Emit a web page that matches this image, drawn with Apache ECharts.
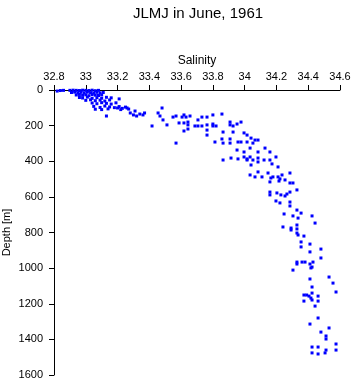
<!DOCTYPE html>
<html>
<head>
<meta charset="utf-8">
<script src="https://cdn.jsdelivr.net/npm/echarts@6/dist/echarts.min.js"></script>
<style>
  html, body { margin: 0; padding: 0; background: #fff; }
  #chart { width: 353px; height: 384px; }
</style>
</head>
<body>
<div id="chart"></div>
<script>
// salinity / depth, one entry per sample
const salinity = [
  32.82, 32.84, 32.86, 32.90, 32.92, 32.94, 32.96, 32.98, 33.00, 33.02, 33.04, 33.06, 33.08,
  32.91, 32.93, 32.95, 32.97, 32.99, 33.01, 33.03, 33.05, 33.07, 33.09, 33.11,
  32.94, 32.96, 32.98, 33.00, 33.02, 33.04, 33.06, 33.08, 33.10,
  32.96, 32.98, 33.01, 33.04, 33.07, 33.10, 33.13, 33.16,
  33.00, 33.03, 33.06, 33.09, 33.12, 33.15, 33.21,
  33.04, 33.07, 33.10, 33.13, 33.16, 33.19,
  33.05, 33.09, 33.12, 33.15, 33.18, 33.21, 33.25,
  33.06, 33.10, 33.14, 33.22, 33.27, 33.20, 33.23, 33.26,
  33.13, 33.28, 33.30, 33.32, 33.34, 33.36, 33.37, 33.31,
  33.417, 33.455, 33.467, 33.486, 33.48, 33.511,
  33.549, 33.568, 33.587, 33.606, 33.618, 33.618, 33.631, 33.643, 33.643, 33.618, 33.643, 33.656, 33.568,
  33.687, 33.706, 33.731, 33.706, 33.731, 33.763, 33.763, 33.763, 33.763,
  33.80, 33.80, 33.80, 33.813, 33.82, 33.857, 33.864, 33.857, 33.864, 33.908, 33.908,
  33.908, 33.908, 33.927, 33.952, 33.927, 33.952, 33.958, 33.977, 33.977, 33.996, 33.996, 33.996,
  33.914, 33.864, 33.958, 34.015, 34.034, 34.034, 34.015,
  34.015, 34.04, 34.065, 34.052, 34.084, 34.084, 34.015, 34.052, 34.04, 34.084, 34.084, 34.084,
  34.034, 34.065, 34.109, 34.128, 34.122, 34.159, 34.159, 34.172, 34.197, 34.147, 34.165, 34.159,
  34.178, 34.21, 34.21, 34.222, 34.254, 34.235, 34.285, 34.285, 34.304, 34.329, 34.285, 34.159,
  34.159, 34.203, 34.228, 34.254, 34.266, 34.216,
  34.197, 34.222, 34.285, 34.285, 34.248, 34.304, 34.329, 34.336, 34.355, 34.424, 34.443,
  34.241, 34.292, 34.292, 34.329, 34.329, 34.329, 34.336, 34.373, 34.355, 34.355, 34.411,
  34.411, 34.48, 34.48, 34.329, 34.361, 34.38, 34.411, 34.43, 34.424, 34.329, 34.417, 34.304,
  34.531, 34.411, 34.556, 34.424, 34.575, 34.424, 34.373, 34.39, 34.405, 34.417, 34.424,
  34.462, 34.373, 34.462, 34.443, 34.462, 34.411, 34.531, 34.48, 34.512, 34.512, 34.575,
  34.424, 34.462, 34.512, 34.575, 34.424, 34.462, 34.506
]
const depth = [
  6, 3, 2, 2, 1, 2, 3, 1, 2, 3, 1, 4, 2,
  14, 12, 16, 13, 17, 12, 15, 18, 13, 16, 14,
  28, 25, 30, 27, 32, 26, 29, 31, 27,
  42, 45, 40, 47, 43, 46, 41, 44,
  58, 55, 60, 57, 62, 56, 50,
  73, 77, 71, 75, 79, 72,
  92, 98, 90, 95, 99, 93, 96,
  108, 110, 106, 110, 107, 101, 103, 101,
  146, 129, 140, 146, 135, 140, 129, 118,
  202, 129, 146, 168, 101, 196,
  152, 146, 185, 152, 140, 185, 152, 180, 196, 230, 219, 146, 298,
  202, 202, 202, 168, 152, 152, 196, 225, 253,
  140, 191, 202, 292, 202, 135, 236, 275, 298, 275, 298,
  180, 196, 202, 191, 236, 337, 292, 292, 180, 241, 348, 376,
  382, 393, 387, 292, 326, 376, 387,
  253, 270, 281, 298, 281, 348, 393, 393, 421, 382, 404, 460,
  477, 488, 488, 326, 393, 393, 348, 415, 376, 466, 494, 516,
  488, 488, 432, 499, 505, 477, 466, 522, 522, 561, 573, 573,
  589, 578, 589, 595, 584, 511,
  623, 634, 629, 651, 696, 707, 674, 719, 691, 707, 747,
  769, 775, 786, 758, 780, 803, 814, 820, 853, 881, 865,
  909, 893, 943, 966, 966, 966, 977, 966, 994, 977, 999, 1011,
  1050, 1061, 1084, 1106, 1134, 1140, 1151, 1151, 1157, 1168, 1179,
  1157, 1185, 1185, 1213, 1280, 1314, 1336, 1359, 1381, 1398, 1426,
  1443, 1443, 1460, 1460, 1476, 1482, 1476
]

const points = salinity.map((s, i) => [s, depth[i]])

const font = 'Liberation Sans, Arial, Helvetica, sans-serif'

const chart = echarts.init(document.getElementById('chart'), null, { renderer: 'canvas' })

chart.setOption({
  backgroundColor: '#fff',
  animation: false,
  title: {
    text: 'JLMJ in June, 1961',
    left: 128,
    top: 1,
    textStyle: { fontFamily: font, fontSize: 15, fontWeight: 'normal', color: '#000' },
  },
  grid: { left: 54, right: 13, top: 90, bottom: 9, containLabel: false, outerBoundsMode: 'none' },
  xAxis: {
    type: 'value',
    position: 'top',
    min: 32.8,
    max: 34.6,
    interval: 0.2,
    name: 'Salinity',
    nameLocation: 'middle',
    nameGap: 23,
    nameMoveOverlap: false,
    nameTextStyle: { fontFamily: font, fontSize: 12, color: '#000' },
    axisLine: { show: true, onZero: false, lineStyle: { color: '#000', width: 1 } },
    axisTick: { show: true, length: 5, lineStyle: { color: '#000' } },
    axisLabel: { fontFamily: font, fontSize: 11, color: '#000', margin: 8 },
    splitLine: { show: false },
  },
  yAxis: {
    type: 'value',
    inverse: true,
    min: 0,
    max: 1600,
    interval: 200,
    name: 'Depth [m]',
    nameLocation: 'middle',
    nameGap: 42,
    nameMoveOverlap: false,
    nameTextStyle: { fontFamily: font, fontSize: 11, color: '#000' },
    axisLine: { show: true, onZero: false, lineStyle: { color: '#000', width: 1 } },
    axisTick: { show: true, length: 5, lineStyle: { color: '#000' } },
    axisLabel: { fontFamily: font, fontSize: 11, color: '#000', margin: 11, formatter: (v) => String(v) },
    splitLine: { show: false },
  },
  series: [
    {
      type: 'scatter',
      data: points,
      symbol: 'rect',
      symbolSize: 3,
      itemStyle: { color: '#0000ff', opacity: 1 },
    },
  ],
})
</script>
</body>
</html>
